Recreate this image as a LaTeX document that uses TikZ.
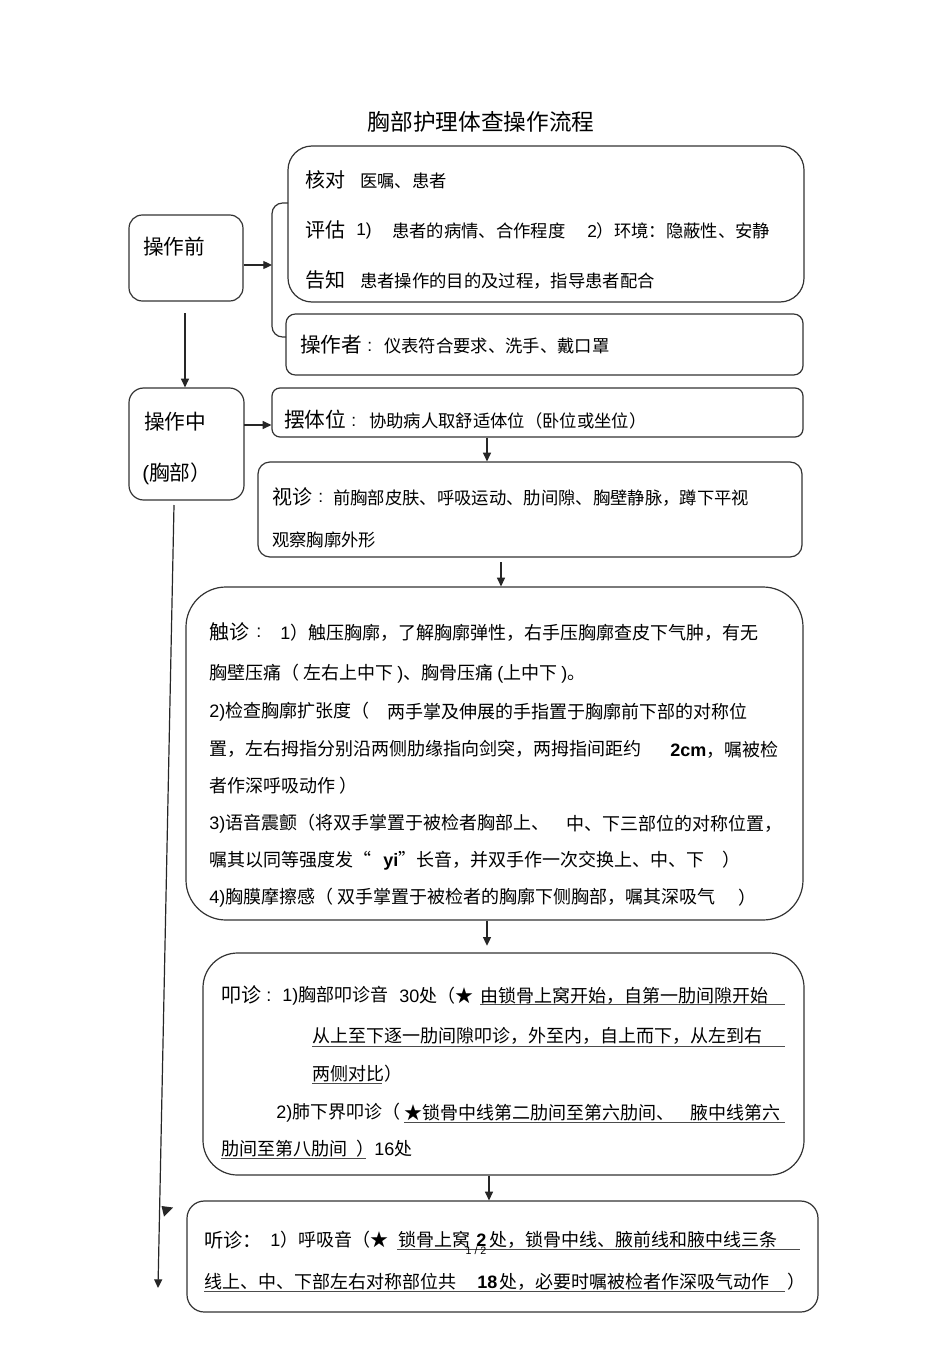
\documentclass[tikz,border=0pt]{standalone}
\usepackage{fontspec}
\setmainfont{Noto Sans CJK SC}
\newfontfamily\latf{Liberation Sans}
\usetikzlibrary{arrows.meta,fit}
\begin{document}
\begin{tikzpicture}[x=0.75pt,y=-0.75pt,
 frame/.style={draw=black!80, line width=0.9pt, inner sep=0pt, rounded corners=#1},
 arr/.style={draw=black!85, line width=0.9pt, -{Triangle[length=6.5pt,width=6pt]}},
 conn/.style={draw=black!80, line width=0.9pt},
 lbl/.style={inner sep=0pt, anchor=west, font=\fontsize{15pt}{17pt}\selectfont},
 txt/.style={inner sep=0pt, anchor=west, font=\fontsize{13pt}{15pt}\selectfont},
 txl/.style={inner sep=0pt, anchor=west, font=\fontsize{13.5pt}{15pt}\selectfont},
 ul/.style={draw=black!70, line width=0.7pt}]
\useasboundingbox (0,0) rectangle (950,1345);
\fill[white] (0,0) rectangle (950,1345);

% title
\node[inner sep=0pt, font=\fontsize{17pt}{19pt}\selectfont] (title) at (481,122) {胸部护理体查操作流程};

% boxes
\node[frame=10pt, fit={(129,215) (243,301)}] (pre) {};
\node[frame=18pt, fit={(288,146) (804,302)}] (chk) {};
\node[frame=7pt, fit={(286,314) (803,375)}] (opr) {};
\node[frame=11pt, fit={(129,388) (244,500)}] (mid) {};
\node[frame=6pt, fit={(272,388) (803,437)}] (pos) {};
\node[frame=9pt, fit={(258,462) (802,557)}] (vis) {};
\node[frame=30pt, fit={(186,587) (803,920)}] (tch) {};
\node[frame=26pt, fit={(203,953) (804,1175)}] (prc) {};
\node[frame=13pt, fit={(187,1201) (818,1312)}] (aus) {};

% left box texts
\node[lbl, font=\fontsize{15.5pt}{17pt}\selectfont] (tpre) at (143,247) {操作前};
\node[lbl, font=\fontsize{15.5pt}{17pt}\selectfont] (tmid1) at (144,422) {操作中};
\node[lbl, font=\fontsize{15.5pt}{17pt}\selectfont] (tmid2) at (142,474) {{\latf (}胸部）};

% bracket and connectors
\coordinate (bt) at (288,203);
\coordinate (bm) at (272,265);
\coordinate (bb) at (286,337);
\draw[conn, rounded corners=8pt] (bt) -- (272,203) -- (272,337) -- (bb);
\draw[arr] (pre.east |- bm) -- (bm);
\coordinate (d1) at (185,313);
\draw[arr] (d1) -- (d1 |- mid.north);
\coordinate (d2) at (244,425);
\draw[arr] (d2) -- (d2 -| pos.west);
\coordinate (c1) at (487,0);
\coordinate (c2) at (501,0);
\coordinate (c3) at (487,0);
\coordinate (c4) at (489,0);
\draw[arr] (c1 |- pos.south) -- (c1 |- vis.north);
\draw[arr] ([yshift=-3.5pt]c2 |- vis.south) -- (c2 |- tch.north);
\draw[arr] (c3 |- tch.south) -- ([yshift=5pt]c3 |- prc.north);
\draw[arr] (c4 |- prc.south) -- (c4 |- aus.north);
\coordinate (ls) at (174,505);
\coordinate (le) at (158,1288);
\draw[arr] (ls) -- (le);
\fill[black!85] (161.5,1206) -- (173,1207.5) -- (164,1216.5) -- cycle;

% check box
\node[lbl] (k1) at (305,180) {核对};
\node[txt] (k2) at (360,181) {医嘱、患者};
\node[lbl] (p1) at (305,230) {评估};
\node[txt] (p2) at (356,231) {{\latf 1)}};
\node[txt] (p3) at (392,231) {患者的病情、合作程度};
\node[txt] (p4) at (587,231) {{\latf 2}）环境：隐蔽性、安静};
\node[lbl] (g1) at (305,280) {告知};
\node[txt] (g2) at (360,281) {患者操作的目的及过程，指导患者配合};

% operator box
\node[lbl, font=\fontsize{15.5pt}{17pt}\selectfont] (o1) at (300,345) {操作者};
\node[txt] (o2) at (367,347) {{\latf :}};
\node[txt] (o3) at (384,346) {仪表符合要求、洗手、戴口罩};

% position box
\node[lbl, font=\fontsize{15.5pt}{17pt}\selectfont] (s1) at (284,420) {摆体位};
\node[txt] (s2) at (351,422) {{\latf :}};
\node[txt] (s3) at (369,421) {协助病人取舒适体位（卧位或坐位）};

% inspection box
\node[lbl] (v1) at (272,497) {视诊};
\node[txt] (v2) at (318,498) {{\latf :}};
\node[txt] (v3) at (333,498) {前胸部皮肤、呼吸运动、肋间隙、胸壁静脉，蹲下平视};
\node[txt] (v4) at (272,540) {观察胸廓外形};

% palpation box
\node[lbl] (h1) at (209,632) {触诊};
\node[txl] (h2) at (256,633) {{\latf :}};
\node[txl] (h3) at (280,633) {{\latf 1}）触压胸廓，了解胸廓弹性，右手压胸廓查皮下气肿，有无};
\node[txl] (h4) at (209,674) {胸壁压痛（ 左右上中下 {\latf )}、胸骨压痛 {\latf (}上中下 {\latf )}。};
\node[txl] (h5) at (209,712) {{\latf 2)}检查胸廓扩张度（};
\node[txl] (h6) at (387,712) {两手掌及伸展的手指置于胸廓前下部的对称位};
\node[txl] (h7) at (209,749) {置，左右拇指分别沿两侧肋缘指向剑突，两拇指间距约};
\node[txl] (h8) at (670,750) {{\latf\bfseries 2cm}，嘱被检};
\node[txl] (h9) at (209,786) {者作深呼吸动作 ）};
\node[txl] (h10) at (209,824) {{\latf 3)}语音震颤（将双手掌置于被检者胸部上、};
\node[txl] (h11) at (566,824) {中、下三部位的对称位置，};
\node[txl] (h12) at (209,860) {嘱其以同等强度发“};
\node[txl] (h13) at (383,861) {{\latf\bfseries yi}”长音，并双手作一次交换上、中、下};
\node[txl] (h14) at (722,860) {）};
\node[txl] (h15) at (209,898) {{\latf 4)}胸膜摩擦感（ 双手掌置于被检者的胸廓下侧胸部，嘱其深吸气};
\node[txl] (h16) at (738,898) {）};

% percussion box
\node[lbl] (q1) at (221,995) {叩诊};
\node[txl] (q2) at (266,997) {{\latf :}};
\node[txl] (q3) at (282,996) {{\latf 1)}胸部叩诊音};
\node[txl] (q4) at (399,996) {{\latf 30}处（★};
\node[txl] (q5) at (480,996) {由锁骨上窝开始，自第一肋间隙开始};
\draw[ul] (480,1004) -- (785,1004);
\node[txl] (q6) at (312,1036) {从上至下逐一肋间隙叩诊，外至内，自上而下，从左到右};
\draw[ul] (312,1046) -- (785,1046);
\node[txl] (q7) at (312,1074) {两侧对比）};
\draw[ul] (312,1083) -- (382,1083);
\node[txl] (q8) at (276,1113) {{\latf 2)}肺下界叩诊（};
\node[txl] (q9) at (404,1113) {★锁骨中线第二肋间至第六肋间、};
\node[txl] (q10) at (690,1113) {腋中线第六};
\draw[ul] (404,1122) -- (785,1122);
\node[txl] (q11) at (221,1149) {肋间至第八肋间};
\node[txl] (q12) at (356,1149) {）{\latf 16}处};
\draw[ul] (221,1158) -- (366,1158);

% auscultation box
\node[lbl, font=\fontsize{14.5pt}{17pt}\selectfont] (a1) at (204,1240) {听诊：};
\node[txl] (a2) at (270,1240) {{\latf 1}）呼吸音（★};
\node[txl] (a3) at (398,1240) {锁骨上窝};
\node[txl] (a4) at (476,1240) {{\latf\bfseries 2}};
\node[txl] (a5) at (489,1240) {处，锁骨中线、腋前线和腋中线三条};
\draw[ul] (397,1249) -- (800,1249);
\node[inner sep=0pt, font=\latf\fontsize{8pt}{9pt}\selectfont] (pg) at (476,1251) {1 / 2};
\node[txl] (a6) at (204,1282) {线上、中、下部左右对称部位共};
\node[txl] (a7) at (477,1282) {{\latf\bfseries 18}};
\node[txl] (a8) at (499,1282) {处，必要时嘱被检者作深吸气动作};
\node[txl] (a9) at (787,1282) {）};
\draw[ul] (204,1291) -- (785,1291);
\end{tikzpicture}
\end{document}
